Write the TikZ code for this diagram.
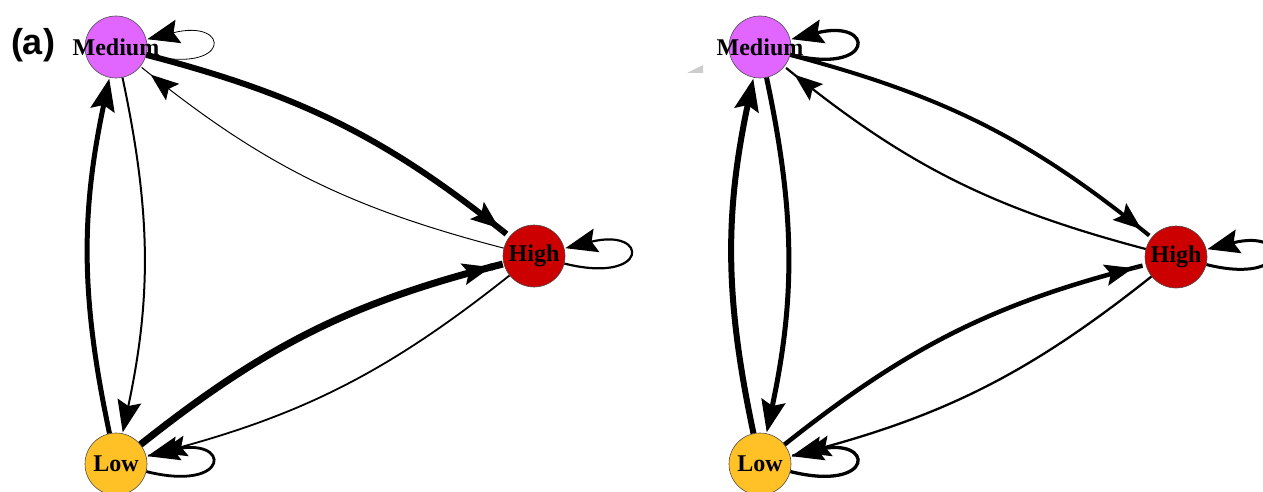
\documentclass[tikz,border=0pt]{standalone}
\usepackage{fontspec}
\setmainfont{Liberation Serif}
\newfontfamily\tagfont{Liberation Sans}
\usetikzlibrary{arrows.meta}

\definecolor{mediumcol}{HTML}{E066FF}
\definecolor{highcol}{HTML}{CD0000}
\definecolor{lowcol}{HTML}{FFC125}

\begin{document}
\begin{tikzpicture}[x=1pt,y=1pt,->,>={Stealth[length=32pt,width=24pt,inset=5pt]},shorten >=1pt,
  level node/.style={circle,draw=black!70,line width=0.6pt,minimum size=62pt,inner sep=0pt,
    font=\fontsize{24}{28}\selectfont\bfseries},
  far/.style={-{Stealth[length=28pt,width=21pt,inset=5pt,sep=0pt]Rectangle[length=12pt,width=0pt 1]}},
  self/.style={out=-14,in=14,distance=88pt}]

  \useasboundingbox (0,0) rectangle (1263,491);

  \node[font=\tagfont\fontsize{36}{40}\selectfont\bfseries] (tag) at (33,446) {(a)};
  \fill[black!20,-] (687,418) -- (703,418) -- (703,426) -- cycle;

  % left panel
  \node[level node,fill=mediumcol] (M1) at (116,444) {\makebox[0pt]{Medium}};
  \node[level node,fill=highcol] (H1) at (534,235) {\makebox[0pt]{High}};
  \node[level node,fill=lowcol] (L1) at (116,27) {\makebox[0pt]{Low}};

  \path[bend left=12]
    (M1) edge[far,line width=6pt] (H1)
    (H1) edge[far,line width=1pt] (M1)
    (M1) edge[line width=2pt] (L1)
    (L1) edge[line width=5pt] (M1)
    (L1) edge[far,line width=7pt] (H1)
    (H1) edge[far,line width=1.8pt] (L1);
  \path[self]
    (M1) edge[line width=0.8pt] (M1)
    (H1) edge[line width=2.2pt] (H1)
    (L1) edge[line width=2.8pt] (L1);

  % right panel
  \node[level node,fill=mediumcol] (M2) at (760,444) {\makebox[0pt]{Medium}};
  \node[level node,fill=highcol] (H2) at (1176,234) {\makebox[0pt]{High}};
  \node[level node,fill=lowcol] (L2) at (760,27) {\makebox[0pt]{Low}};

  \path[bend left=12]
    (M2) edge[far,line width=4pt] (H2)
    (H2) edge[far,line width=2.2pt] (M2)
    (M2) edge[line width=5pt] (L2)
    (L2) edge[line width=6pt] (M2)
    (L2) edge[far,line width=4.5pt] (H2)
    (H2) edge[far,line width=2.3pt] (L2);
  \path[self]
    (M2) edge[line width=3.3pt] (M2)
    (H2) edge[line width=3pt] (H2)
    (L2) edge[line width=3.3pt] (L2);
\end{tikzpicture}
\end{document}
